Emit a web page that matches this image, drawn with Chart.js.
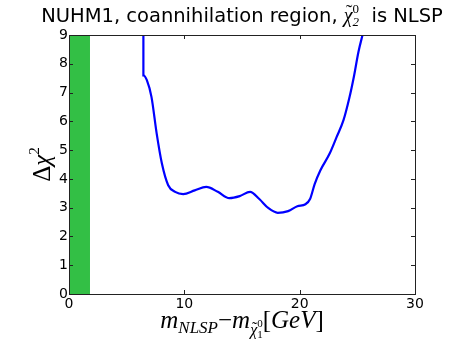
<!DOCTYPE html>
<html>
<head>
<meta charset="utf-8">
<script src="https://cdn.jsdelivr.net/npm/chart.js@4"></script>
<style>
html,body{margin:0;padding:0;background:#fff;}
canvas{display:block;}
</style>
</head>
<body>
<canvas id="c" width="461" height="346"></canvas>
<script>
// ---- data ----
const curveX = [6.45, 6.45, 6.75, 7.15, 7.6, 8.05, 8.6, 9.2, 9.9, 10.9, 11.9, 12.9, 13.9, 14.8, 15.7, 16.5, 17.3, 18.1, 19.0, 19.8, 20.5, 20.9, 21.3, 21.8, 22.6, 23.2, 23.8, 24.3, 24.7, 25.1, 25.45];
const curveY = [9.0, 7.6, 7.43, 6.85, 5.58, 4.54, 3.78, 3.55, 3.47, 3.6, 3.72, 3.55, 3.33, 3.4, 3.55, 3.3, 2.98, 2.82, 2.88, 3.05, 3.12, 3.3, 3.82, 4.3, 4.88, 5.45, 6.04, 6.8, 7.55, 8.42, 9.0];
const bandX = [0, 1.82];
const bandY = [9, 9];
const xTicks = [0, 10, 20, 30];
const yTicks = [0, 1, 2, 3, 4, 5, 6, 7, 8, 9];

const curve = curveX.map((x, i) => ({x, y: curveY[i]}));
const band = bandX.map((x, i) => ({x, y: bandY[i]}));

function drawRuns(ctx, runs, cx, baseline) {
  let w = 0;
  runs.forEach(r => { ctx.font = r.font; r.w = ctx.measureText(r.t).width; if (!r.stack) w += r.w; });
  let x = cx - w / 2;
  let lastX = x, lastW = 0;
  runs.forEach(r => {
    ctx.font = r.font;
    let px = r.stack ? lastX : x;
    if (r.center) px = lastX + (lastW - r.w) / 2;
    ctx.fillText(r.t, px + (r.dx || 0), baseline + (r.dy || 0));
    if (!r.stack) { lastX = x; lastW = r.w; x += r.w; }
  });
}

const deco = {
  id: 'deco',
  afterDraw(chart) {
    const ctx = chart.ctx, a = chart.chartArea;
    const xs = chart.scales.x, ys = chart.scales.y;
    ctx.save();
    ctx.strokeStyle = '#222';
    ctx.lineWidth = 1;
    ctx.strokeRect(Math.round(a.left) + 0.5, Math.round(a.top) + 0.5, Math.round(a.right - a.left), Math.round(a.bottom - a.top));
    ctx.beginPath();
    xTicks.forEach(v => {
      const p = Math.round(xs.getPixelForValue(v)) + 0.5;
      ctx.moveTo(p, a.bottom); ctx.lineTo(p, a.bottom - 4);
      ctx.moveTo(p, a.top); ctx.lineTo(p, a.top + 4);
    });
    yTicks.forEach(v => {
      const p = Math.round(ys.getPixelForValue(v)) + 0.5;
      ctx.moveTo(a.left, p); ctx.lineTo(a.left + 4, p);
      ctx.moveTo(a.right, p); ctx.lineTo(a.right - 4, p);
    });
    ctx.stroke();

    ctx.fillStyle = '#000';
    ctx.textBaseline = 'alphabetic';
    ctx.textAlign = 'left';
    const sans = 'DejaVu Sans';
    const serif = 'Liberation Serif';
    // title
    drawRuns(ctx, [
      {t: 'NUHM1, coannihilation region, ', font: `19.5px "${sans}"`},
      {t: 'χ', font: `italic 20px "${serif}"`},
      {t: '˜', font: `20px "${serif}"`, stack: true, center: true, dy: -3, dx: 1},
      {t: '0', font: `13px "${serif}"`, dy: -9},
      {t: '2', font: `italic 13px "${serif}"`, dy: 4, stack: true},
      {t: '  is NLSP', font: `19.5px "${sans}"`}
    ], (a.left + a.right) / 2, 22);
    // x label
    drawRuns(ctx, [
      {t: 'm', font: `italic 25px "${serif}"`},
      {t: 'NLSP', font: `italic 17px "${serif}"`, dy: 5},
      {t: '−', font: `25px "${serif}"`},
      {t: 'm', font: `italic 25px "${serif}"`},
      {t: 'χ', font: `italic 16px "${serif}"`, dy: 7},
      {t: '˜', font: `16px "${serif}"`, stack: true, center: true, dy: 5, dx: 1},
      {t: '0', font: `11px "${serif}"`, dy: -1},
      {t: '1', font: `11px "${serif}"`, dy: 10, stack: true},
      {t: '[', font: `25px "${serif}"`},
      {t: 'GeV', font: `italic 25px "${serif}"`},
      {t: ']', font: `25px "${serif}"`}
    ], (a.left + a.right) / 2, 328);
    // y label
    ctx.translate(50, (a.top + a.bottom) / 2);
    ctx.rotate(-Math.PI / 2);
    drawRuns(ctx, [
      {t: 'Δ', font: `25px "${serif}"`},
      {t: 'χ', font: `italic 25px "${serif}"`},
      {t: '2', font: `15px "${serif}"`, dy: -11}
    ], 0, 0);
    ctx.restore();
  }
};

new Chart(document.getElementById('c'), {
  type: 'line',
  data: {
    datasets: [
      {data: band, borderWidth: 0, pointRadius: 0, backgroundColor: '#33bf45', borderColor: 'rgba(0,0,0,0)', fill: 'origin', order: 2},
      {data: curve, borderColor: '#0000ff', borderWidth: 2.2, pointRadius: 0, fill: false, cubicInterpolationMode: 'monotone', order: 1}
    ]
  },
  options: {
    responsive: false,
    animation: false,
    events: [],
    layout: {padding: {left: 0, right: 46, top: 35, bottom: 32}},
    plugins: {legend: {display: false}, tooltip: {enabled: false}, title: {display: false}},
    scales: {
      x: {
        type: 'linear', min: 0, max: 30,
        afterBuildTicks: s => { s.ticks = xTicks.map(v => ({value: v})); },
        afterFit: s => { s.height = 20; },
        grid: {display: false, drawTicks: false},
        border: {display: false},
        ticks: {color: '#000', font: {family: 'DejaVu Sans', size: 14}, padding: 2, maxRotation: 0}
      },
      y: {
        type: 'linear', min: 0, max: 9,
        afterBuildTicks: s => { s.ticks = yTicks.map(v => ({value: v})); },
        afterFit: s => { s.width = 69; },
        grid: {display: false, drawTicks: false},
        border: {display: false},
        ticks: {color: '#000', font: {family: 'DejaVu Sans', size: 14}, padding: 1}
      }
    }
  },
  plugins: [deco]
});
</script>
</body>
</html>
